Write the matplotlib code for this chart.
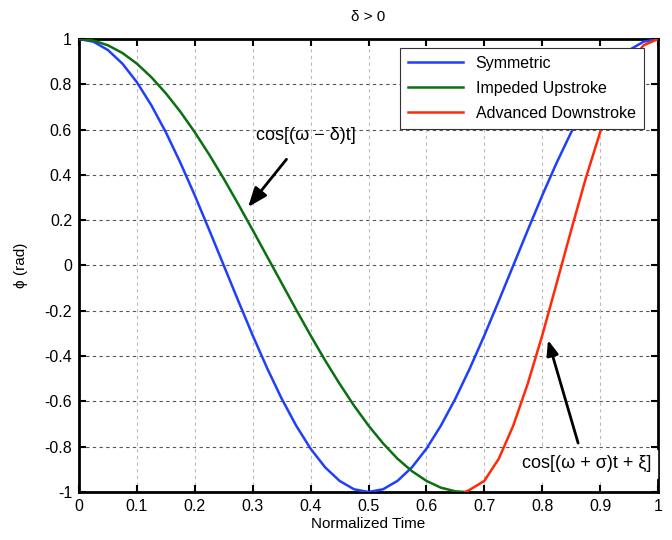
import numpy as np
from matplotlib import pyplot as plt

plt.rcParams["font.family"] = ["Liberation Sans", "DejaVu Sans"]

# values
t_sym = [0, 0.025, 0.05, 0.075, 0.1, 0.125, 0.15, 0.175, 0.2, 0.225, 0.25,
         0.275, 0.3, 0.325, 0.35, 0.375, 0.4, 0.425, 0.45, 0.475, 0.5,
         0.525, 0.55, 0.575, 0.6, 0.625, 0.65, 0.675, 0.7, 0.725, 0.75,
         0.775, 0.8, 0.825, 0.85, 0.875, 0.9, 0.925, 0.95, 0.975, 1.0]
phi_sym = [1, 0.988, 0.951, 0.891, 0.809, 0.707, 0.588, 0.454, 0.309, 0.156, 0,
           -0.156, -0.309, -0.454, -0.588, -0.707, -0.809, -0.891, -0.951, -0.988, -1,
           -0.988, -0.951, -0.891, -0.809, -0.707, -0.588, -0.454, -0.309, -0.156, 0,
           0.156, 0.309, 0.454, 0.588, 0.707, 0.809, 0.891, 0.951, 0.988, 1]

t_up = [0, 0.025, 0.05, 0.075, 0.1, 0.125, 0.15, 0.175, 0.2, 0.225, 0.25,
        0.275, 0.3, 0.325, 0.35, 0.375, 0.4, 0.425, 0.45, 0.475, 0.5,
        0.525, 0.55, 0.575, 0.6, 0.625, 0.65, 0.667]
phi_up = [1, 0.993, 0.972, 0.938, 0.891, 0.831, 0.760, 0.679, 0.588, 0.489, 0.383,
          0.271, 0.156, 0.039, -0.078, -0.195, -0.309, -0.419, -0.522, -0.619, -0.707,
          -0.785, -0.853, -0.908, -0.951, -0.981, -0.997, -1]

t_down = [0.667, 0.675, 0.7, 0.725, 0.75, 0.775, 0.8, 0.825, 0.85, 0.875,
          0.9, 0.925, 0.95, 0.975, 1.0]
phi_down = [-1, -0.99, -0.951, -0.853, -0.707, -0.522, -0.309, -0.078, 0.156, 0.383,
            0.588, 0.760, 0.891, 0.972, 1]

xticks = [0, 0.1, 0.2, 0.3, 0.4, 0.5, 0.6, 0.7, 0.8, 0.9, 1]
xticklabels = ["0", "0.1", "0.2", "0.3", "0.4", "0.5", "0.6", "0.7", "0.8", "0.9", "1"]
yticks = [-1, -0.8, -0.6, -0.4, -0.2, 0, 0.2, 0.4, 0.6, 0.8, 1]
yticklabels = ["-1", "-0.8", "-0.6", "-0.4", "-0.2", "0", "0.2", "0.4", "0.6", "0.8", "1"]

fig = plt.figure(figsize=(6.72, 5.4), dpi=100)
ax = fig.add_axes([0.1176, 0.0889, 0.8616, 0.8389])

ax.plot(t_sym, phi_sym, color="#1f3fff", lw=1.8, label="Symmetric", zorder=3)
ax.plot(t_up, phi_up, color="#0a7010", lw=1.8, label="Impeded Upstroke", zorder=3)
ax.plot(t_down, phi_down, color="#ff2a0a", lw=1.8, label="Advanced Downstroke", zorder=3)

ax.set_xlim(0, 1)
ax.set_ylim(-1, 1)
ax.set_xticks(xticks)
ax.set_xticklabels(xticklabels)
ax.set_yticks(yticks)
ax.set_yticklabels(yticklabels)
ax.tick_params(direction="in", top=True, right=True, length=5, width=1.5,
               labelsize=11.5, pad=5)
for s in ax.spines.values():
    s.set_linewidth(2)

for y in yticks[1:-1]:
    ax.axhline(y, color="#555555", lw=0.8, ls=(0, (3, 3)), zorder=1)
for x in xticks[1:-1]:
    ax.axvline(x, color="#bbbbbb", lw=0.8, ls=(0, (3, 3)), zorder=1)

ax.set_title("δ > 0", fontsize=11, pad=13)
ax.set_xlabel("Normalized Time", fontsize=11, labelpad=2)
ax.set_ylabel("ϕ (rad)", fontsize=11, labelpad=12)

leg = ax.legend(loc="upper right", bbox_to_anchor=(0.975, 0.98), borderaxespad=0,
                fontsize=11.5, handlelength=3.4, fancybox=False, edgecolor="#333333",
                framealpha=1, borderpad=0.5, labelspacing=0.62)
leg.get_frame().set_linewidth(0.8)
leg.set_zorder(5)

ax.annotate("cos[(ω − δ)t]", xy=(0.292, 0.258), xytext=(0.392, 0.576),
            fontsize=13, ha="center", va="center", zorder=6,
            arrowprops=dict(arrowstyle="-|>,head_width=0.35,head_length=0.9",
                            color="black", lw=2, shrinkA=12, shrinkB=0))
ax.annotate("", xy=(0.81, -0.329), xytext=(0.862, -0.784), zorder=6,
            arrowprops=dict(arrowstyle="-|>,head_width=0.35,head_length=0.9",
                            color="black", lw=2, shrinkA=0, shrinkB=0))
ax.text(0.877, -0.875, "cos[(ω + σ)t + ξ]", fontsize=13, ha="center", va="center",
        backgroundcolor="white", zorder=6)

fig.savefig("out.png", dpi=100)
